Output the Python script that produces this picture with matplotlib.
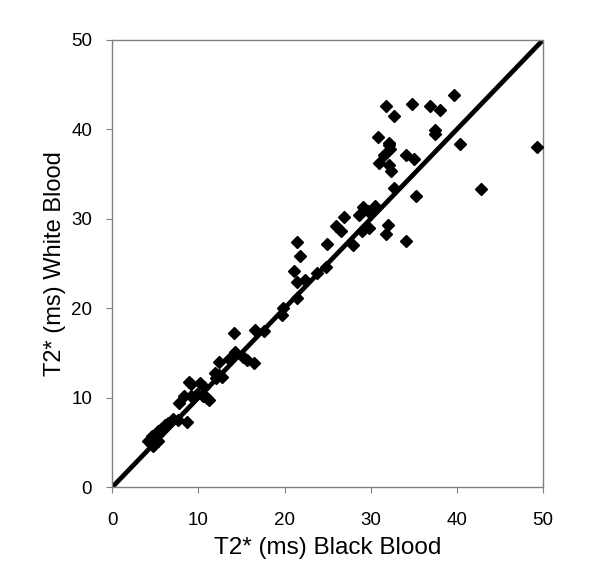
import numpy as np
import matplotlib
matplotlib.use('Agg')
from matplotlib import pyplot as plt

# 黑血 T2* (ms)
black_blood = [39.7, 34.8, 36.9, 31.8, 38.1, 32.7, 37.5, 37.5, 30.9, 32.1,
               32.1, 40.4, 32.3, 49.3, 31.5, 34.1, 35.0, 31.0, 32.1, 32.4,
               32.7, 42.8, 35.3, 30.5, 29.1, 29.7, 28.7, 26.9, 26.0, 32.0,
               26.6, 29.0, 29.8, 31.8, 34.1, 28.0, 24.9, 21.4, 21.8, 21.1,
               24.8, 23.8, 21.5, 22.4, 21.5, 19.8, 19.7, 16.6, 17.6, 14.1,
               14.3, 15.2, 15.6, 16.5, 13.6, 12.4, 11.9, 12.4, 12.8, 12.1,
               8.9, 9.1, 10.2, 10.6, 8.3, 9.1, 9.8, 10.5, 11.0, 11.2,
               7.8, 7.6, 8.7, 7.1, 6.5, 6.1, 5.7, 5.3, 4.6, 5.0,
               4.5, 5.3, 4.7, 4.2]
# 白血 T2* (ms)
white_blood = [43.8, 42.8, 42.6, 42.6, 42.2, 41.5, 39.9, 39.5, 39.2, 38.5,
               38.3, 38.4, 37.8, 38.0, 37.1, 37.1, 36.7, 36.2, 36.0, 35.4,
               33.5, 33.3, 32.5, 31.4, 31.3, 30.9, 30.4, 30.2, 29.2, 29.3,
               28.6, 28.6, 29.0, 28.3, 27.5, 27.1, 27.2, 27.4, 25.8, 24.2,
               24.6, 24.0, 22.9, 23.2, 21.1, 20.0, 19.3, 17.6, 17.5, 17.2,
               15.1, 14.6, 14.2, 13.9, 14.3, 14.0, 12.8, 12.5, 12.3, 12.2,
               11.8, 11.5, 11.7, 11.2, 10.2, 10.2, 10.4, 10.2, 10.0, 9.8,
               9.4, 7.5, 7.3, 7.6, 7.2, 6.9, 6.5, 6.3, 5.7, 5.6,
               5.4, 5.2, 4.6, 5.2]
ticks = [0, 10, 20, 30, 40, 50]

plt.rcParams['font.family'] = ['Liberation Sans', 'DejaVu Sans']

fig = plt.figure(figsize=(6, 5.87), dpi=100)
ax = fig.add_axes([0.187, 0.170, 0.718, 0.762])

# 恒等线
ax.plot([0, 50], [0, 50], color='black', linewidth=3.4, zorder=2)
# 散点
ax.plot(black_blood, white_blood, linestyle='none', marker='D', markersize=6,
        color='black', zorder=3)

ax.set_xlim(0, 50)
ax.set_ylim(0, 50)
ax.set_xticks(ticks)
ax.set_yticks(ticks)
for s in ax.spines.values():
    s.set_color('#808080')
    s.set_linewidth(1)
ax.tick_params(direction='out', length=4.5, color='#808080', labelsize=13.5)
ax.tick_params(axis='x', pad=13)
ax.tick_params(axis='y', pad=10)

ax.set_xlabel('T2* (ms) Black Blood', fontsize=17.5, labelpad=6)
ax.set_ylabel('T2* (ms) White Blood', fontsize=17, labelpad=4)

plt.savefig('out.png', dpi=100)
